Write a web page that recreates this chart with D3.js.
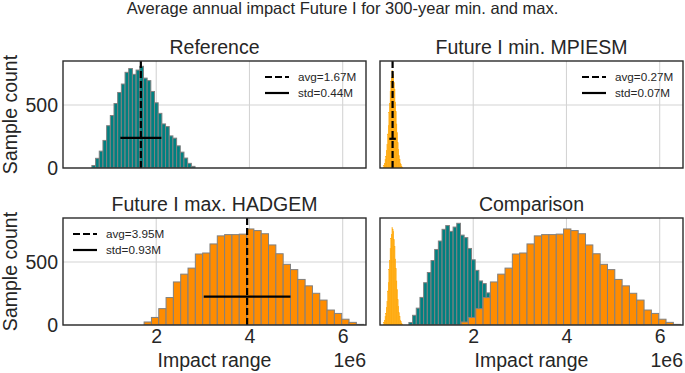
<!DOCTYPE html>
<html>
<head>
<meta charset="utf-8">
<script src="https://cdn.jsdelivr.net/npm/d3@7"></script>
<style>
  body { margin: 0; background: #fff; }
  text { font-family: "Liberation Sans", Arial, sans-serif; fill: #262626; }
</style>
</head>
<body>
<svg id="chart" width="685" height="373"></svg>
<script>
// histogram counts (impact values in units, bins are uniform)
const referenceCounts = [20, 77, 134, 219, 336, 417, 512, 600, 667, 760, 790, 744, 778, 808,
    714, 694, 608, 518, 434, 350, 329, 255, 237, 176, 126, 79, 37, 13];
const referenceStart = 0.62e6;
const referenceWidth = 0.079e6;

const minCounts = [22, 38, 70, 92, 140, 190, 270, 340, 440, 515, 610, 690, 720, 775, 760,
    745, 680, 625, 525, 450, 350, 282, 200, 150, 98, 70, 40, 30, 14, 8];
const minStart = 0.08e6;
const minWidth = 0.0135e6;

const maxCounts = [24, 60, 130, 218, 342, 404, 452, 564, 572, 644, 708, 718, 718, 722, 763,
    750, 725, 636, 566, 482, 440, 362, 311, 252, 198, 119, 92, 46, 21, 5];
const maxStart = 1.74e6;
const maxWidth = 0.157e6;

const panelTitles = ['Reference', 'Future I min. MPIESM', 'Future I max. HADGEM', 'Comparison'];
const avgValues = [1.67e6, 0.27e6, 3.95e6];
const stdValues = [0.44e6, 0.07e6, 0.93e6];
const stdMarkerCount = [240, 232, 226];   // height where the std bar is drawn

const xTicks = [2e6, 4e6, 6e6];
const yTicks = [0, 500];

const width = 685;
const height = 373;
const colX = [63, 380];
const rowY = [61, 218];
const pw = 303;
const ph = 107;

const svg = d3.select('#chart');

const x = d3.scaleLinear().domain([0, 6.5e6]).range([0, pw]);
const y = d3.scaleLinear().domain([0, 850]).range([ph, 0]);

const reference = { counts: referenceCounts, start: referenceStart, width: referenceWidth, fill: '#008080', edge: 'grey' };
const futureMin = { counts: minCounts, start: minStart, width: minWidth, fill: '#ffa500', edge: null };
const futureMax = { counts: maxCounts, start: maxStart, width: maxWidth, fill: '#ff8c00', edge: 'grey' };

const panels = [
    { col: 0, row: 0, series: [reference], stat: 0, legend: 'right' },
    { col: 1, row: 0, series: [futureMin], stat: 1, legend: 'right' },
    { col: 0, row: 1, series: [futureMax], stat: 2, legend: 'left' },
    { col: 1, row: 1, series: [futureMin, reference, futureMax], stat: null }
];

svg.append('text')
    .attr('x', width / 2)
    .attr('y', 14)
    .attr('text-anchor', 'middle')
    .style('font-size', '16.5px')
    .text('Average annual impact Future I for 300-year min. and max.');

function fmtM(v) {
    return (v / 1e6).toFixed(2) + 'M';
}

function drawPanel(p, i) {
    const g = svg.append('g')
        .attr('transform', `translate(${colX[p.col]},${rowY[p.row]})`);

    g.append('clipPath').attr('id', 'clip' + i)
        .append('rect').attr('width', pw).attr('height', ph);

    // grid behind the bars
    g.append('g').selectAll('line')
        .data(xTicks)
        .join('line')
        .attr('x1', d => x(d)).attr('x2', d => x(d))
        .attr('y1', 0).attr('y2', ph)
        .attr('stroke', '#d4d4d4')
        .attr('stroke-width', 1.1);
    g.append('g').selectAll('line')
        .data(yTicks)
        .join('line')
        .attr('x1', 0).attr('x2', pw)
        .attr('y1', d => y(d)).attr('y2', d => y(d))
        .attr('stroke', '#d4d4d4')
        .attr('stroke-width', 1.1);

    const bars = g.append('g').attr('clip-path', `url(#clip${i})`);
    p.series.forEach(s => {
        const bins = s.counts.map((n, k) => ({ x0: s.start + k * s.width, x1: s.start + (k + 1) * s.width, n: n }));
        bars.append('g').selectAll('rect')
            .data(bins)
            .join('rect')
            .attr('x', d => x(d.x0))
            .attr('width', d => x(d.x1) - x(d.x0))
            .attr('y', d => y(d.n))
            .attr('height', d => y(0) - y(d.n))
            .attr('fill', s.fill)
            .attr('stroke', s.edge || s.fill)
            .attr('stroke-width', s.edge ? 1 : 0.3);
    });

    if (p.stat !== null) {
        const avg = avgValues[p.stat];
        const std = stdValues[p.stat];
        g.append('line')
            .attr('x1', x(avg)).attr('x2', x(avg))
            .attr('y1', 0).attr('y2', ph)
            .attr('stroke', '#000')
            .attr('stroke-width', 2.2)
            .attr('stroke-dasharray', '7,3');
        g.append('line')
            .attr('x1', x(avg - std)).attr('x2', x(avg + std))
            .attr('y1', y(stdMarkerCount[p.stat])).attr('y2', y(stdMarkerCount[p.stat]))
            .attr('stroke', '#000')
            .attr('stroke-width', 2.2);

        // legend
        const lx = p.legend === 'right' ? pw - 101 : 10;
        const items = [
            { label: 'avg=' + fmtM(avg), dash: '7,3' },
            { label: 'std=' + fmtM(std), dash: null }
        ];
        const lg = g.append('g').attr('transform', `translate(${lx},16)`);
        items.forEach((it, k) => {
            lg.append('line')
                .attr('x1', 0).attr('x2', 24)
                .attr('y1', k * 16).attr('y2', k * 16)
                .attr('stroke', '#000')
                .attr('stroke-width', 2.2)
                .attr('stroke-dasharray', it.dash);
            lg.append('text')
                .attr('x', 33)
                .attr('y', k * 16)
                .attr('dy', '0.35em')
                .style('font-size', '11.7px')
                .text(it.label);
        });
    }

    g.append('rect')
        .attr('width', pw).attr('height', ph)
        .attr('fill', 'none')
        .attr('stroke', '#2b2b2b')
        .attr('stroke-width', 1.4);

    g.append('text')
        .attr('x', pw / 2)
        .attr('y', -7.5)
        .attr('text-anchor', 'middle')
        .style('font-size', '19.5px')
        .text(panelTitles[i]);

    if (p.col === 0) {
        const ya = g.append('g')
            .call(d3.axisLeft(y).tickValues(yTicks).tickSize(0).tickPadding(5));
        ya.select('.domain').remove();
        ya.selectAll('text').style('font-size', '19.5px').attr('fill', '#262626');
        g.append('text')
            .attr('transform', `translate(-46,${ph / 2}) rotate(-90)`)
            .attr('text-anchor', 'middle')
            .style('font-size', '19.5px')
            .text('Sample count');
    }

    if (p.row === 1) {
        const xa = g.append('g')
            .attr('transform', `translate(0,${ph})`)
            .call(d3.axisBottom(x).tickValues(xTicks).tickFormat(d => d / 1e6).tickSize(0).tickPadding(4));
        xa.select('.domain').remove();
        xa.selectAll('text').style('font-size', '19.5px').attr('fill', '#262626');
        g.append('text')
            .attr('x', pw / 2)
            .attr('y', ph + 42)
            .attr('text-anchor', 'middle')
            .style('font-size', '19.5px')
            .text('Impact range');
        g.append('text')
            .attr('x', pw)
            .attr('y', ph + 42)
            .attr('text-anchor', 'end')
            .style('font-size', '19.5px')
            .text('1e6');
    }
}

panels.forEach(drawPanel);
</script>
</body>
</html>
